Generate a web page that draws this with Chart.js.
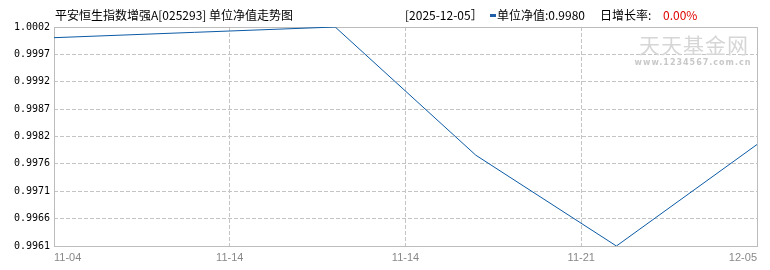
<!DOCTYPE html>
<html>
<head>
<meta charset="utf-8">
<script src="https://cdn.jsdelivr.net/npm/chart.js@4.4.1/dist/chart.umd.min.js"></script>
<style>
html,body{margin:0;padding:0;background:#fff;}
#wrap{width:770px;height:270px;position:relative;}
</style>
</head>
<body>
<div id="wrap"><canvas id="navChart"></canvas></div>
<script>
// ==================== data ====================
const fundTitle  = "平安恒生指数增强A[025293] 单位净值走势图";
const lastDate   = "[2025-12-05］";
const navLabel   = "单位净值:";
const lastNav    = "0.9980";
const growthLabel= "日增长率:";
const dayGrowth  = "0.00%";

const pointIdx  = [0, 1, 2, 3, 4, 5];
const navValues = [1.0000, 1.0001, 1.0002, 0.9978, 0.9961, 0.9980];

const xTickPos    = [0, 1.25, 2.5, 3.75, 5];
const xTickLabels = ["11-04", "11-14", "11-14", "11-21", "12-05"];

const yMin = 0.9961, yMax = 1.0002;
const yTickLabels = ["0.9961","0.9966","0.9971","0.9976","0.9982","0.9987","0.9992","0.9997","1.0002"];

// ==================== helpers ====================
const gridColor = (n) => (c) => (c.index === 0 || c.index === n - 1) ? 'rgba(0,0,0,0)' : '#c4c4c4';

// title, watermark and frame
const decor = {
  id: 'decor',
  beforeDatasetsDraw(chart){
    const ctx = chart.ctx, a = chart.chartArea;
    ctx.save();
    // watermark
    ctx.textAlign = 'center';
    ctx.textBaseline = 'middle';
    ctx.fillStyle = '#d6d6d6';
    ctx.font = '21px "Noto Sans CJK SC"';
    ctx.letterSpacing = '1px';
    ctx.fillText("天天基金网", 694, 45);
    ctx.fillStyle = '#c8c8c8';
    ctx.font = 'bold 8px "DejaVu Sans"';
    ctx.letterSpacing = '1px';
    ctx.fillText("www.1234567.com.cn", 693, 63);
    ctx.letterSpacing = '0px';
    // frame
    ctx.strokeStyle = '#bcbcbc';
    ctx.lineWidth = 1;
    const l = Math.round(a.left) + 0.5, t = Math.round(a.top) + 0.5;
    const r = Math.round(a.right) + 0.5, b = Math.round(a.bottom) + 0.5;
    ctx.strokeRect(l, t, r - l, b - t);
    ctx.restore();
  },
  afterDraw(chart){
    const ctx = chart.ctx;
    ctx.save();
    ctx.textBaseline = 'middle';
    ctx.textAlign = 'left';
    ctx.fillStyle = '#000';
    ctx.font = '12px "Noto Sans CJK SC"';
    ctx.fillText(fundTitle, 55, 15);
    ctx.fillText(lastDate, 405, 15);
    ctx.fillStyle = '#1f5fa8';
    ctx.fillRect(490, 14, 6, 3);
    ctx.fillStyle = '#000';
    ctx.fillText(navLabel + lastNav, 497, 15);
    ctx.fillText(growthLabel, 600, 15);
    ctx.fillStyle = '#e00000';
    ctx.fillText(dayGrowth, 663, 15);
    ctx.restore();
  }
};

// ==================== chart ====================
new Chart(document.getElementById('navChart'), {
  type: 'line',
  data: {
    datasets: [{
      label: '单位净值',
      data: navValues.map((v, i) => ({ x: pointIdx[i], y: v })),
      borderColor: '#0b5aa5',
      borderWidth: 1,
      pointRadius: 0,
      tension: 0,
      fill: false
    }]
  },
  options: {
    responsive: true,
    maintainAspectRatio: false,
    animation: false,
    layout: { padding: { top: 27, right: 13, left: 0, bottom: 0 } },
    plugins: { legend: { display: false }, tooltip: { enabled: false } },
    scales: {
      x: {
        type: 'linear',
        min: 0, max: 5,
        afterBuildTicks: (s) => { s.ticks = xTickPos.map(v => ({ value: v })); },
        afterFit: (s) => { s.height = 24; },
        ticks: {
          autoSkip: false, maxRotation: 0, align: 'inner', padding: 5,
          color: '#888',
          font: { family: '"Liberation Sans Narrow", "Liberation Sans"', size: 11 },
          callback: (v, i) => xTickLabels[i]
        },
        grid: { color: gridColor(xTickPos.length), drawTicks: false },
        border: { display: false, dash: [4, 2] }
      },
      y: {
        min: yMin, max: yMax,
        afterBuildTicks: (s) => {
          const n = yTickLabels.length;
          s.ticks = yTickLabels.map((_, i) => ({ value: yMin + (yMax - yMin) * i / (n - 1) }));
        },
        afterFit: (s) => { s.width = 54; },
        ticks: {
          autoSkip: false, padding: 4,
          color: '#000',
          font: { family: '"DejaVu Sans Mono"', size: 10 },
          callback: (v, i) => yTickLabels[i]
        },
        grid: { color: gridColor(yTickLabels.length), drawTicks: false },
        border: { display: false, dash: [4, 2] }
      }
    }
  },
  plugins: [decor]
});
</script>
</body>
</html>
